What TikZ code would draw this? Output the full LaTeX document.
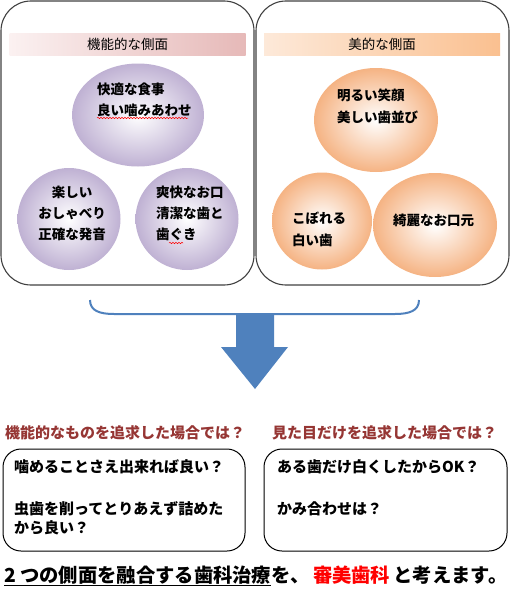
\documentclass[tikz,border=0pt]{standalone}
\usepackage{fontspec}
\setmainfont{Noto Sans CJK JP}
\usepackage{tikz}
\usetikzlibrary{shapes.geometric,decorations.pathmorphing}
\definecolor{panelGray}{RGB}{64,64,64}
\definecolor{funcPale}{RGB}{251,241,241}
\definecolor{funcPink}{RGB}{230,185,184}
\definecolor{aesPale}{RGB}{253,233,217}
\definecolor{aesOrange}{RGB}{250,192,144}
\definecolor{funcLav}{RGB}{191,177,211}
\definecolor{aesPeach}{RGB}{245,179,131}
\definecolor{arrowBlue}{RGB}{79,129,189}
\definecolor{qRed}{RGB}{150,54,52}
\definecolor{keyRed}{RGB}{255,0,0}
\tikzset{
  sidepanel/.style={draw=panelGray,line width=1.1pt,rounded corners=30pt,inner sep=0pt},
  sideband/.style={minimum width=236pt,minimum height=22pt,inner sep=0pt,font=\fontsize{13.5}{16}\selectfont},
  funcblob/.style={ellipse,inner sep=0pt,shading=radial,inner color=white,outer color=funcLav},
  aesblob/.style={ellipse,inner sep=0pt,shading=radial,inner color=white,outer color=aesPeach},
  blobtext/.style={font=\bfseries\fontsize{13.5}{21}\selectfont,align=left,anchor=west,inner sep=0pt},
  qlabel/.style={font=\bfseries\fontsize{15}{18}\selectfont,text=qRed,anchor=west,inner sep=0pt},
  qbox/.style={draw=black,line width=1pt,rounded corners=18pt,inner sep=0pt},
  qtext/.style={font=\bfseries\fontsize{15}{19}\selectfont,align=left,anchor=west,inner sep=0pt},
  spellmark/.style={draw=keyRed,line width=0.5pt,decorate,decoration={snake,amplitude=0.7pt,segment length=3pt}},
}
\begin{document}
\begin{tikzpicture}[x=1pt,y=-1pt]
  \useasboundingbox (0,0) rectangle (510,589);

  % Two side panels with their title bands.
  \node[sidepanel,minimum width=253pt,minimum height=284pt] (funcPanel) at (127.5,143) {};
  \node[sidepanel,minimum width=253pt,minimum height=284pt] (aesPanel) at (382.5,143) {};
  \node[sideband,left color=funcPale,right color=funcPink] (funcBand) at (127.5,44) {機能的な側面};
  \node[sideband,left color=aesPale,right color=aesOrange] (aesBand) at (382,44) {美的な側面};

  % Functional side.
  \node[funcblob,minimum width=132pt,minimum height=103pt] (fMeal) at (138,115) {};
  \node[funcblob,minimum width=103pt,minimum height=102pt] (fTalk) at (69,219) {};
  \node[funcblob,minimum width=103pt,minimum height=102pt] (fClean) at (187,219) {};
  \node[blobtext] (fMealText) at (97,99.5) {快適な食事\\良い噛みあわせ};
  \node[blobtext,align=center,anchor=center] (fTalkText) at (72,213.5) {楽しい\\おしゃべり\\正確な発音};
  \node[blobtext] (fCleanText) at (156,213.5) {爽快なお口\\清潔な歯と\\歯ぐき};
  \draw[spellmark] (97,118) -- (188,118);
  \draw[spellmark] (169,243) -- (183,243);

  % Aesthetic side.
  \node[aesblob,minimum width=124pt,minimum height=104pt] (aSmile) at (376,120) {};
  \node[aesblob,minimum width=100pt,minimum height=97pt] (aWhite) at (322,221) {};
  \node[aesblob,minimum width=124pt,minimum height=104pt] (aMouth) at (435,225) {};
  \node[blobtext,font=\bfseries\fontsize{13.5}{22}\selectfont] (aSmileText) at (337,106) {明るい笑顔\\美しい歯並び};
  \node[blobtext,font=\bfseries\fontsize{13.5}{22}\selectfont] (aWhiteText) at (292,229) {こぼれる\\白い歯};
  \node[blobtext] (aMouthText) at (393,220) {綺麗なお口元};

  % Brace and down arrow.
  \draw[arrowBlue,line width=2pt]
    (90,300) .. controls (90,311) and (100,314) .. (114,314) -- (395,314)
    .. controls (409,314) and (419,311) .. (419,300);
  \fill[arrowBlue] (236,314) -- (274,314) -- (274,347) -- (288,347)
    -- (255,389) -- (221,347) -- (236,347) -- cycle;

  % Questions.
  \node[qlabel] (funcQ) at (5,433) {機能的なものを追求した場合では？};
  \node[qlabel] (aesQ) at (272,433) {見た目だけを追求した場合では？};
  \node[qbox,minimum width=242pt,minimum height=102pt] (funcBox) at (124,500) {};
  \node[qbox,minimum width=243pt,minimum height=102pt] (aesBox) at (385.5,500) {};
  \node[qtext] (funcA) at (14,467) {噛めることさえ出来れば良い？};
  \node[qtext] (funcB) at (14,518.5) {虫歯を削ってとりあえず詰めた\\から良い？};
  \node[qtext] (aesA) at (277,467) {ある歯だけ白くしたからOK？};
  \node[qtext] (aesB) at (277,509) {かみ合わせは？};

  % Conclusion.
  \node[font=\bfseries\fontsize{19.3}{23}\selectfont,anchor=west,inner sep=0pt] (closing)
    at (4,576) {\underline{2 つの側面を融合する歯科治療}を、\,\textcolor{keyRed}{審美歯科}\,と考えます。};
\end{tikzpicture}
\end{document}
